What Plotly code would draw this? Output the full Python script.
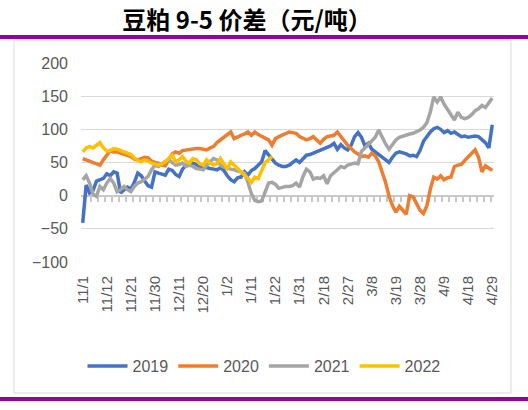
import plotly.graph_objects as go

dates = [
    "11/1", "11/2", "11/5", "11/6", "11/7", "11/8", "11/9", "11/12", "11/13", "11/14",
    "11/15", "11/16", "11/19", "11/20", "11/21", "11/22", "11/23", "11/26", "11/27", "11/28",
    "11/29", "11/30", "12/3", "12/4", "12/5", "12/6", "12/7", "12/10", "12/11", "12/12",
    "12/13", "12/14", "12/17", "12/18", "12/19", "12/20", "12/21", "12/24", "12/25", "12/26",
    "12/27", "12/28", "1/2", "1/3", "1/4", "1/7", "1/8", "1/9", "1/10", "1/11",
    "1/14", "1/15", "1/16", "1/17", "1/18", "1/21", "1/22", "1/23", "1/24", "1/25",
    "1/28", "1/29", "1/30", "1/31", "2/1", "2/11", "2/12", "2/13", "2/14", "2/15",
    "2/18", "2/19", "2/20", "2/21", "2/22", "2/25", "2/26", "2/27", "2/28", "3/1",
    "3/4", "3/5", "3/6", "3/7", "3/8", "3/11", "3/12", "3/13", "3/14", "3/15",
    "3/18", "3/19", "3/20", "3/21", "3/22", "3/25", "3/26", "3/27", "3/28", "3/29",
    "4/1", "4/2", "4/3", "4/4", "4/8", "4/9", "4/10", "4/11", "4/12", "4/15",
    "4/16", "4/17", "4/18", "4/19", "4/22", "4/23", "4/24", "4/25", "4/26", "4/29",
]

tick_labels = ["11/1", "11/12", "11/21", "11/30", "12/11", "12/20", "1/2", "1/11", "1/22",
               "1/31", "2/18", "2/27", "3/8", "3/19", "3/28", "4/9", "4/18", "4/29"]

s2019 = [
    -41, 16, 4, 8, 22, 24, 26, 33, 30, 36,
    34, 4, 9, 13, 10, 20, 34, 30, 22, 15,
    13, 36, 34, 33, 31, 40, 38, 32, 29, 40,
    46, 46, 49, 47, 44, 44, 42, 41, 40, 39,
    42, 38, 30, 24, 21, 27, 28, 36, 31, 38,
    41, 46, 51, 68, 62, 55, 49, 46, 44, 44,
    46, 50, 54, 50, 55, 61, 62, 64, 66, 68,
    71, 73, 75, 79, 70, 77, 72, 69, 76, 89,
    95, 88, 75, 79, 70, 66, 62, 57, 54, 50,
    58, 64, 66, 65, 63, 60, 61, 59, 68, 82,
    90, 96, 101, 103, 100, 95, 98, 94, 96, 92,
    89, 90, 88, 89, 90, 89, 84, 80, 72, 107,
]

s2020 = [
    56, 54, 52, 51, 48, 46, 54, 62, 68, 66,
    66, 64, 62, 61, 59, 55, 54, 56, 58, 57,
    52, 50, 49, 46, 45, 54, 63, 66, 64, 68,
    69, 69, 70, 71, 71, 70, 69, 72, 74, 80,
    84, 88, 91, 96, 86, 89, 91, 93, 96, 91,
    96, 92, 89, 86, 84, 76, 86, 89, 91, 94,
    96, 95, 94, 89, 86, 84, 86, 89, 84, 79,
    85, 89, 90, 91, 96, 89, 81, 76, 71, 66,
    63, 59, 60, 58, 64, 60, 51, 35, 20, -1,
    -15, -25, -16, -22, -28, 0, -2, -12, -22, -27,
    -15, 10, 28, 25, 30, 24, 27, 28, 44, 46,
    47, 53, 58, 63, 69, 58, 36, 45, 41, 38,
]

s2021 = [
    24, 30, 19, 2, -1, 14, 9, 19, 26, 19,
    6, 9, 14, 9, 6, 14, 19, 21, 25, 29,
    39, 46, 44, 48, 52, 54, 50, 46, 47, 49,
    44, 46, 44, 41, 40, 39, 46, 52, 56, 54,
    46, 43, 41, 40, 39, 37, 36, 34, 20, 3,
    -7, -9, -8, 5, 19, 20, 17, 11, 13, 14,
    14, 15, 19, 13, 29, 40, 36, 25, 27, 26,
    30, 18, 30, 34, 39, 44, 42, 46, 47, 49,
    48, 67, 72, 77, 82, 88, 99, 88, 78, 70,
    78, 84, 88, 90, 92, 93, 94, 96, 99, 103,
    110, 126, 149, 141, 149, 138, 130, 122, 114, 126,
    118, 116, 118, 122, 128, 131, 136, 133, 140, 147,
]

s2022 = [
    66, 72, 74, 72, 76, 80, 72, 67, 68, 71,
    70, 68, 66, 64, 62, 57, 53, 51, 54, 52,
    49, 48, 46, 48, 51, 56, 61, 51, 54, 59,
    52, 49, 56, 54, 48, 46, 54, 49, 46, 48,
    56, 48, 41, 51, 46, 42, 36, 32, 26, 20,
    28, 26, 38, 50, 54, 59,
]

series_names = ["2019", "2020", "2021", "2022"]
series_values = [s2019, s2020, s2021, s2022]
colors = ["#4472C4", "#ED7D31", "#A5A5A5", "#FFC000"]

fig = go.Figure()
for name, vals, col in zip(series_names, series_values, colors):
    fig.add_trace(go.Scatter(
        x=dates[:len(vals)], y=vals, name=name, mode="lines",
        line=dict(color=col, width=3.5),
    ))

# invisible helper trace for the zero-line axis with tick marks
fig.add_trace(go.Scatter(x=[], y=[], xaxis="x2", showlegend=False, hoverinfo="skip"))

L, R, T, B = 81, 34, 63, 148
PW = 528 - L - R
PH = 410 - T - B
grey = "#595959"


def px_to_py(py):
    return (410 - B - py) / PH


fig.update_layout(
    width=528, height=410,
    margin=dict(l=L, r=R, t=T, b=B, autoexpand=False),
    paper_bgcolor="white", plot_bgcolor="white",
    font=dict(family="Liberation Sans, Arial, sans-serif", color=grey, size=16),
    title=dict(
        text="<b>豆粕 9-5 价差（元/吨）</b>",
        font=dict(family="Noto Sans CJK SC", size=24, color="black"),
        x=247 / 528, xanchor="center", xref="container",
        y=1 - 21 / 410, yanchor="middle", yref="container",
    ),
    xaxis=dict(
        type="category", categoryorder="array", categoryarray=dates,
        range=[-0.5, len(dates) - 0.5],
        tickmode="array", tickvals=tick_labels, ticktext=tick_labels,
        tickangle=-90, tickfont=dict(size=15, color=grey),
        showgrid=False, showline=False, zeroline=False, ticks="",
        ticklabelstandoff=10, automargin=False,
    ),
    xaxis2=dict(
        type="linear", range=[-0.5, len(dates) - 0.5], overlaying="x",
        anchor="free", position=100 / 300,
        tickmode="linear", tick0=0.5, dtick=2,
        ticks="outside", ticklen=6, tickcolor="#C8C8C8", tickwidth=1.5,
        showline=True, linecolor="#C8C8C8", linewidth=1.5,
        showticklabels=False, showgrid=False, zeroline=False,
        layer="below traces", automargin=False,
    ),
    yaxis=dict(
        range=[-100, 200], tickmode="linear", tick0=-100, dtick=50,
        showgrid=True, gridcolor="#D9D9D9", gridwidth=1,
        zeroline=False, showline=False, ticks="",
        tickfont=dict(size=16, color=grey), ticklabelstandoff=12,
        automargin=False,
    ),
    legend=dict(
        orientation="h", x=(264 - L) / PW, xanchor="center",
        y=px_to_py(366), yanchor="middle",
        font=dict(size=16, color=grey), bgcolor="rgba(0,0,0,0)",
        itemwidth=40, tracegroupgap=0,
    ),
    showlegend=True,
    shapes=[
        dict(type="rect", xref="paper", yref="paper",
             x0=(14 - L) / PW, x1=(511 - L) / PW,
             y0=px_to_py(393), y1=px_to_py(40),
             line=dict(color="#D9D9D9", width=1), layer="below"),
        dict(type="line", xref="paper", yref="paper",
             x0=-0.3, x1=1.3, y0=px_to_py(37), y1=px_to_py(37),
             line=dict(color="#990099", width=4)),
        dict(type="line", xref="paper", yref="paper",
             x0=-0.3, x1=1.3, y0=px_to_py(399), y1=px_to_py(399),
             line=dict(color="#990099", width=4)),
    ],
)

fig.write_html(
    "out.html",
    config={"displayModeBar": False},
    post_script="document.body.style.margin='0';document.body.style.overflow='hidden';",
)
